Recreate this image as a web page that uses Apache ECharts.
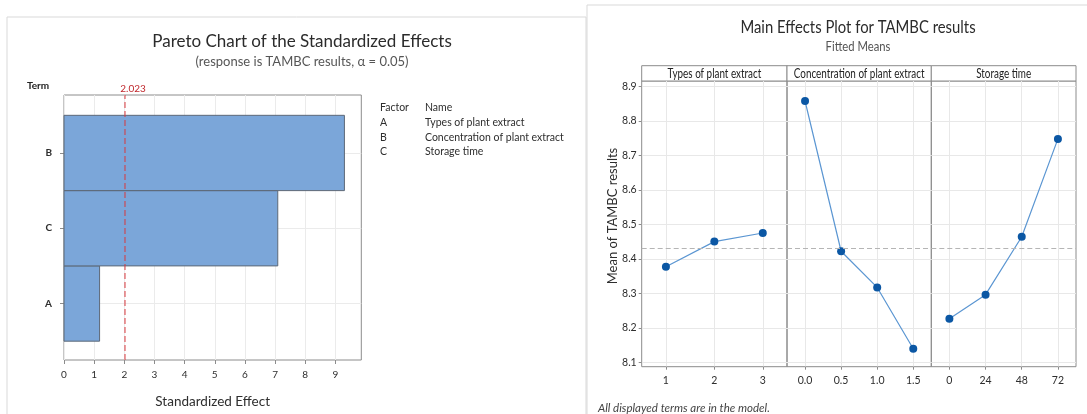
<!DOCTYPE html>
<html>
<head>
<meta charset="utf-8">
<script src="https://cdn.jsdelivr.net/npm/echarts@6/dist/echarts.min.js"></script>
<style>
  html, body { margin: 0; padding: 0; background: #fff; }
  #main { width: 1087px; height: 414px; }
</style>
</head>
<body>
<div id="main"></div>
<script>
// ---- Pareto chart of the standardized effects ----
const paretoTerms = ['A', 'B', 'C'];
const paretoNames = ['Types of plant extract', 'Concentration of plant extract', 'Storage time'];
const paretoEffects = [1.18, 9.30, 7.09];
const criticalT = 2.023;
const effectTicks = [0, 1, 2, 3, 4, 5, 6, 7, 8, 9];

// ---- Main effects plot (fitted means) ----
const panelTitles = ['Types of plant extract', 'Concentration of plant extract', 'Storage time'];
const typeLevels = [1, 2, 3];
const typeMeans = [8.377, 8.450, 8.475];
const concLevels = [0.0, 0.5, 1.0, 1.5];
const concMeans = [8.858, 8.422, 8.317, 8.139];
const timeLevels = [0, 24, 48, 72];
const timeMeans = [8.226, 8.296, 8.464, 8.748];
const meanTicks = [8.1, 8.2, 8.3, 8.4, 8.5, 8.6, 8.7, 8.8, 8.9];

const FONT = 'Lato, "Open Sans", sans-serif';
const TXT = '#2e2e2e';
const RED = '#d8383d';

// order terms by effect size: smallest at the bottom
const order = paretoEffects.map((v, i) => i).sort((a, b) => paretoEffects[a] - paretoEffects[b]);
const orderedTerms = order.map(i => paretoTerms[i]);
const paretoData = order.map((i, pos) => [paretoEffects[i], pos]);
const termMin = -0.75, termMax = 2.77;

// panel geometry
const pareto = { left: 64, top: 95, width: 297.3, height: 271 };
const panelLeft = [641.7, 787, 931.3];
const panelWidth = [145.3, 144.3, 144.7];
const panelTop = 81, panelHeight = 285.7, stripTop = 65.7, stripHeight = 15.3;

const panels = [
  { levels: typeLevels, means: typeMeans, min: 0.5, max: 3.5, fmt: v => String(v) },
  { levels: concLevels, means: concMeans, min: -0.25, max: 1.75, fmt: v => v.toFixed(1) },
  { levels: timeLevels, means: timeMeans, min: -12, max: 84, fmt: v => String(v) }
];

const panelAverages = panels.map(p => p.means.reduce((s, v) => s + v, 0) / p.means.length);
const grandMean = panelAverages.reduce((s, v) => s + v, 0) / panelAverages.length;

const grids = [Object.assign({ show: true, borderColor: '#8c8c8c', borderWidth: 1 }, pareto)];
const xAxes = [{
  type: 'value', gridIndex: 0, min: 0, max: 9.86,
  name: 'Standardized Effect', nameLocation: 'middle', nameGap: 35,
  nameTextStyle: { fontFamily: FONT, fontSize: 13.5, color: TXT },
  axisLine: { show: false, onZero: false },
  axisTick: { show: true, length: 4, customValues: effectTicks, lineStyle: { color: '#8c8c8c' } },
  axisLabel: { customValues: effectTicks, fontFamily: FONT, fontSize: 10, color: TXT, margin: 10 },
  splitLine: { show: true, lineStyle: { color: '#ebebeb' } }
}];
const yAxes = [{
  type: 'value', gridIndex: 0, min: termMin, max: termMax,
  axisLine: { show: false, onZero: false },
  axisTick: { show: true, length: 4, customValues: [0, 1, 2], lineStyle: { color: '#8c8c8c' } },
  axisLabel: { customValues: [0, 1, 2], formatter: v => orderedTerms[Math.round(v)], fontFamily: FONT, fontSize: 10, fontWeight: 'bold', color: TXT, margin: 12 },
  splitLine: { show: true, lineStyle: { color: '#ebebeb' } }
}];

const series = [{
  type: 'custom', xAxisIndex: 0, yAxisIndex: 0,
  data: paretoData,
  encode: { x: 0, y: 1 },
  renderItem: function (params, api) {
    const v = api.value(0), pos = api.value(1);
    const p0 = api.coord([0, pos + 0.5]);
    const p1 = api.coord([v, pos - 0.5]);
    return {
      type: 'rect',
      shape: { x: p0[0], y: p0[1], width: p1[0] - p0[0], height: p1[1] - p0[1] },
      style: { fill: '#7ba6d9', stroke: '#5d6877', lineWidth: 1 }
    };
  }
}, {
  // reference line at the critical t value, spanning the full term axis
  type: 'line', xAxisIndex: 0, yAxisIndex: 0, z: 5,
  data: [[criticalT, termMin], [criticalT, termMax]],
  symbol: 'none', silent: true,
  lineStyle: { color: RED, type: [6, 3], width: 1 },
  endLabel: { show: true, formatter: String(criticalT), color: '#c0282d', fontFamily: FONT, fontSize: 10,
    align: 'center', verticalAlign: 'bottom', offset: [0, -1] }
}];

panels.forEach((p, k) => {
  const gi = k + 1;
  grids.push({ left: panelLeft[k], top: panelTop, width: panelWidth[k], height: panelHeight, show: true, borderColor: '#8c8c8c', borderWidth: 1 });
  xAxes.push({
    type: 'value', gridIndex: gi, min: p.min, max: p.max,
    axisLine: { show: false, onZero: false },
    axisTick: { show: true, length: 3, customValues: p.levels, lineStyle: { color: '#8c8c8c' } },
    axisLabel: { customValues: p.levels, formatter: p.fmt, fontFamily: FONT, fontSize: 10.5, color: TXT, margin: 8 },
    splitLine: { show: true, lineStyle: { color: '#e8e8e8' } }
  });
  yAxes.push({
    type: 'value', gridIndex: gi, min: 8.087, max: 8.916,
    axisLine: { show: false, onZero: false },
    axisTick: { show: k === 0, length: 3, customValues: meanTicks, lineStyle: { color: '#8c8c8c' } },
    axisLabel: { show: k === 0, customValues: meanTicks, formatter: v => v.toFixed(1), fontFamily: FONT, fontSize: 10.5, color: TXT, margin: 5 },
    splitLine: { show: true, lineStyle: { color: '#e8e8e8' } }
  });
  series.push({
    type: 'line', xAxisIndex: gi, yAxisIndex: gi,
    data: p.levels.map((x, i) => [x, p.means[i]]),
    symbol: 'circle', symbolSize: 8,
    lineStyle: { color: '#5b96d2', width: 1.2 },
    itemStyle: { color: '#0b57a4' },
    markLine: {
      silent: true, symbol: 'none',
      lineStyle: { color: '#b5b5b5', type: [5, 3], width: 1 },
      label: { show: false },
      data: [{ yAxis: grandMean }]
    }
  });
});

const graphics = [
  { type: 'rect', shape: { x: 7, y: 17, width: 579, height: 420 }, style: { fill: 'none', stroke: '#d9d9d9', lineWidth: 1 }, silent: true, z: -1 },
  { type: 'rect', shape: { x: 587, y: 5, width: 520, height: 430 }, style: { fill: 'none', stroke: '#d9d9d9', lineWidth: 1 }, silent: true, z: -1 },
  { type: 'text', x: 38, y: 86, style: { text: 'Term', fontFamily: FONT, fontSize: 10, fontWeight: 'bold', fill: '#222', align: 'center', verticalAlign: 'middle' } },
  { type: 'text', x: 380, y: 108, style: { text: 'Factor', fontFamily: FONT, fontSize: 10.5, fill: TXT, verticalAlign: 'middle' } },
  { type: 'text', x: 425, y: 108, style: { text: 'Name', fontFamily: FONT, fontSize: 10.5, fill: TXT, verticalAlign: 'middle' } },
  { type: 'text', x: 858, y: 28, scaleX: 0.9, style: { text: 'Main Effects Plot for TAMBC results', fontFamily: FONT, fontSize: 16.5, fill: '#2b2b2b', align: 'center', verticalAlign: 'middle' } },
  { type: 'text', x: 858, y: 47, scaleX: 0.9, style: { text: 'Fitted Means', fontFamily: FONT, fontSize: 12.5, fill: '#555', align: 'center', verticalAlign: 'middle' } },
  { type: 'text', x: 613, y: 216, rotation: Math.PI / 2, style: { text: 'Mean of TAMBC results', fontFamily: FONT, fontSize: 13, fill: TXT, align: 'center', verticalAlign: 'middle' } },
  { type: 'text', x: 598, y: 408, style: { text: 'All displayed terms are in the model.', fontFamily: FONT, fontSize: 11.5, fontStyle: 'italic', fill: '#444', verticalAlign: 'middle' } }
];
paretoTerms.forEach((t, i) => {
  const y = 123 + i * 14.5;
  graphics.push({ type: 'text', x: 380, y: y, style: { text: t, fontFamily: FONT, fontSize: 10.5, fill: TXT, verticalAlign: 'middle' } });
  graphics.push({ type: 'text', x: 425, y: y, style: { text: paretoNames[i], fontFamily: FONT, fontSize: 10.5, fill: TXT, verticalAlign: 'middle' } });
});
// strip boxes and labels above each main-effects panel
panelTitles.forEach((t, k) => {
  graphics.push({ type: 'rect', shape: { x: panelLeft[k], y: stripTop, width: panelWidth[k], height: stripHeight }, style: { fill: '#fff', stroke: '#8c8c8c', lineWidth: 1 }, silent: true });
  graphics.push({ type: 'text', x: panelLeft[k] + panelWidth[k] / 2, y: stripTop + stripHeight / 2 + 0.5, scaleX: 0.76,
    style: { text: t, fontFamily: FONT, fontSize: 13, fill: '#222', align: 'center', verticalAlign: 'middle' } });
});

const chart = echarts.init(document.getElementById('main'), null, { renderer: 'canvas' });
chart.setOption({
  animation: false,
  backgroundColor: '#ffffff',
  title: [
    { text: 'Pareto Chart of the Standardized Effects', subtext: '(response is TAMBC results, \u03b1 = 0.05)',
      left: 297, top: 28, textAlign: 'center', itemGap: 5,
      textStyle: { fontFamily: FONT, fontSize: 17, fontWeight: 'normal', color: '#2b2b2b' },
      subtextStyle: { fontFamily: FONT, fontSize: 13, color: '#555' } }
  ],
  grid: grids,
  xAxis: xAxes,
  yAxis: yAxes,
  series: series,
  graphic: graphics
});
</script>
</body>
</html>
